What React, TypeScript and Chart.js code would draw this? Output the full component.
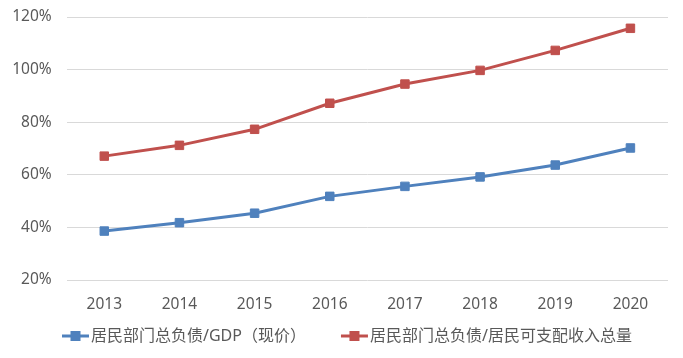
import React, { useEffect, useRef } from "react";
import { Chart, registerables } from "chart.js";

Chart.register(...registerables);

const categories = ["2013", "2014", "2015", "2016", "2017", "2018", "2019", "2020"];
const debtToGdp = [38.6, 41.8, 45.4, 51.8, 55.6, 59.2, 63.7, 70.2];
const debtToIncome = [67.1, 71.2, 77.3, 87.2, 94.5, 99.7, 107.3, 115.7];
const yTickValues = [20, 40, 60, 80, 100, 120];
const seriesLabels = ["居民部门总负债/GDP（现价）", "居民部门总负债/居民可支配收入总量"];
const seriesColors = ["#4F81BD", "#C0504D"];

const FONT = '"Noto Sans", "Noto Sans CJK SC", sans-serif';
const TEXT_COLOR = "#595959";

const legendPlugin = {
  id: "excelLegend",
  afterDraw(chart: any) {
    const ctx = chart.ctx as CanvasRenderingContext2D;
    ctx.save();
    ctx.font = `16px ${FONT}`;
    ctx.textBaseline = "middle";
    ctx.textAlign = "left";
    let x = 62;
    const y = 336;
    chart.data.datasets.forEach((ds: any) => {
      const color = ds.borderColor as string;
      ctx.strokeStyle = color;
      ctx.lineWidth = 3;
      ctx.beginPath();
      ctx.moveTo(x, y);
      ctx.lineTo(x + 27, y);
      ctx.stroke();
      ctx.fillStyle = color;
      ctx.fillRect(x + 13.5 - 5, y - 5, 10, 10);
      ctx.fillStyle = TEXT_COLOR;
      ctx.fillText(ds.label, x + 29, y);
      x += 29 + ctx.measureText(ds.label).width + 35;
    });
    ctx.restore();
  },
};

export default function App() {
  const canvasRef = useRef<HTMLCanvasElement | null>(null);

  useEffect(() => {
    document.body.style.margin = "0";
    const canvas = canvasRef.current;
    if (!canvas) return;
    const makeDs = (label: string, data: number[], color: string) => ({
      label,
      data,
      borderColor: color,
      backgroundColor: color,
      borderWidth: 3,
      pointStyle: "rect",
      pointRadius: 6,
      pointBorderWidth: 1,
      pointBackgroundColor: color,
      pointBorderColor: color,
      tension: 0,
      fill: false,
    });
    const chart = new Chart(canvas, {
      type: "line",
      data: {
        labels: categories,
        datasets: [
          makeDs(seriesLabels[0], debtToGdp, seriesColors[0]),
          makeDs(seriesLabels[1], debtToIncome, seriesColors[1]),
        ],
      },
      options: {
        responsive: true,
        maintainAspectRatio: false,
        animation: false,
        layout: { autoPadding: false, padding: { left: 0, right: 15, top: 17, bottom: 38 } },
        plugins: {
          legend: { display: false },
          tooltip: { enabled: false },
        },
        scales: {
          x: {
            type: "category",
            offset: true,
            grid: { display: false, drawTicks: false },
            border: { display: false },
            ticks: {
              color: TEXT_COLOR,
              font: { family: FONT, size: 15.5 },
              padding: 15,
              maxRotation: 0,
            },
            afterFit: (scale: any) => {
              scale.height = 40;
              scale.paddingLeft = 0;
              scale.paddingRight = 0;
            },
          },
          y: {
            min: 20,
            max: 120,
            grid: { color: "#D9D9D9", lineWidth: 1, drawTicks: false },
            border: { display: false },
            ticks: {
              color: TEXT_COLOR,
              font: { family: FONT, size: 15.5 },
              padding: 15,
              callback: (v: any) => `${v}%`,
            },
            afterBuildTicks: (scale: any) => {
              scale.ticks = yTickValues.map((v) => ({ value: v }));
            },
            afterFit: (scale: any) => {
              scale.width = 66.7;
              scale.paddingTop = 0;
              scale.paddingBottom = 0;
            },
          },
        },
      },
      plugins: [legendPlugin],
    });
    return () => chart.destroy();
  }, []);

  return (
    <div style={{ position: "fixed", left: 0, top: 0, width: 683, height: 358, background: "#fff" }}>
      <canvas ref={canvasRef} />
    </div>
  );
}
